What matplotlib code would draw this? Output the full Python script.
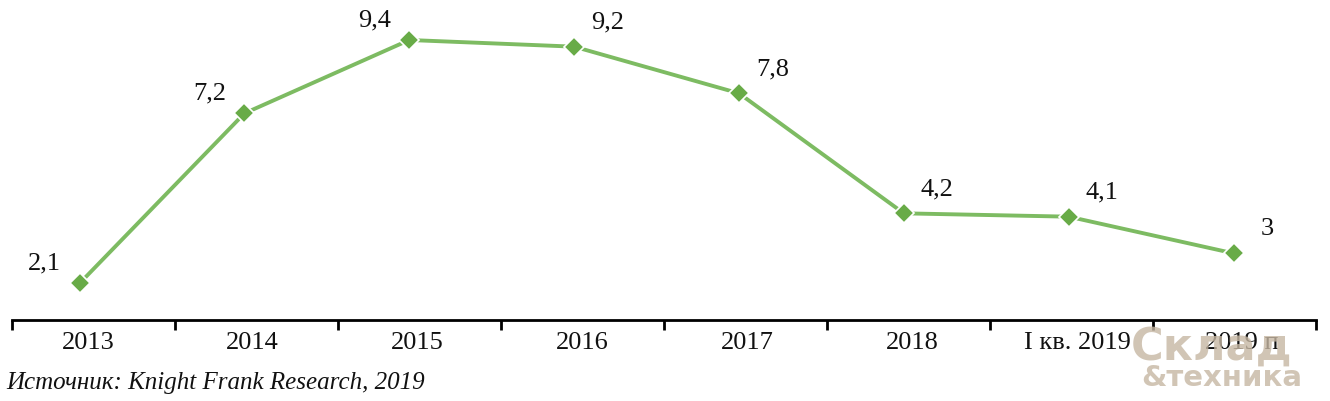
import numpy as np
import matplotlib
matplotlib.use("Agg")
import matplotlib.pyplot as plt

# data
categories = ["2013", "2014", "2015", "2016", "2017", "2018", "I кв. 2019", "2019 п"]
values = [2.1, 7.2, 9.4, 9.2, 7.8, 4.2, 4.1, 3.0]
value_labels = ["2,1", "7,2", "9,4", "9,2", "7,8", "4,2", "4,1", "3"]
source = "Источник: Knight Frank Research, 2019"

plt.rcParams['font.family'] = ['Liberation Serif', 'DejaVu Serif']

fig = plt.figure(figsize=(13.3, 4.02), dpi=100)
ax = fig.add_axes([12 / 1330, 1 - 321 / 402, 1304 / 1330, 321 / 402])

x = np.arange(len(values))
ax.plot(x, values, color='#7dbb62', lw=2.8, marker='D', ms=10.5,
        markerfacecolor='#68ab47', markeredgecolor='white', markeredgewidth=1.2,
        solid_capstyle='butt', zorder=3)

for i, (v, lab) in enumerate(zip(values, value_labels)):
    off = (-25, 15) if i < 3 else (24, 18)
    ax.annotate(lab, (i, v), xytext=off, textcoords='offset points',
                ha='center', va='center', fontsize=19, color='#111111')

ax.set_xlim(-0.41, 7.50)
ax.set_ylim(1.0, 10.63)

# category boundaries as ticks, labels in the middle
ax.set_xticks(np.linspace(-0.41, 7.50, 9))
ax.set_xticklabels([])
ax.tick_params(axis='x', direction='out', length=7, width=2, color='black')
for i, c in enumerate(categories):
    ax.text(i + 0.05, -0.035, c, transform=ax.get_xaxis_transform(),
            ha='center', va='top', fontsize=19, color='#111111')

ax.set_yticks([])
for s in ['top', 'right', 'left']:
    ax.spines[s].set_visible(False)
ax.spines['bottom'].set_linewidth(2)
ax.patch.set_alpha(0)

fig.text(6 / 1330, 1 - 383 / 402, source, ha='left', va='center',
         fontsize=18, style='italic', color='#111111')

# watermark logo
fig.text(1212 / 1330, 1 - 347 / 402, "Склад", ha='center', va='center',
         fontsize=32, fontweight='bold', family='DejaVu Sans', color='#c6b7a3',
         alpha=0.8, zorder=5)
fig.text(1222 / 1330, 1 - 378 / 402, "&техника", ha='center', va='center',
         fontsize=21, fontweight='bold', family='DejaVu Sans', color='#c6b7a3',
         alpha=0.8, zorder=5)

fig.savefig('out.png', dpi=100)
